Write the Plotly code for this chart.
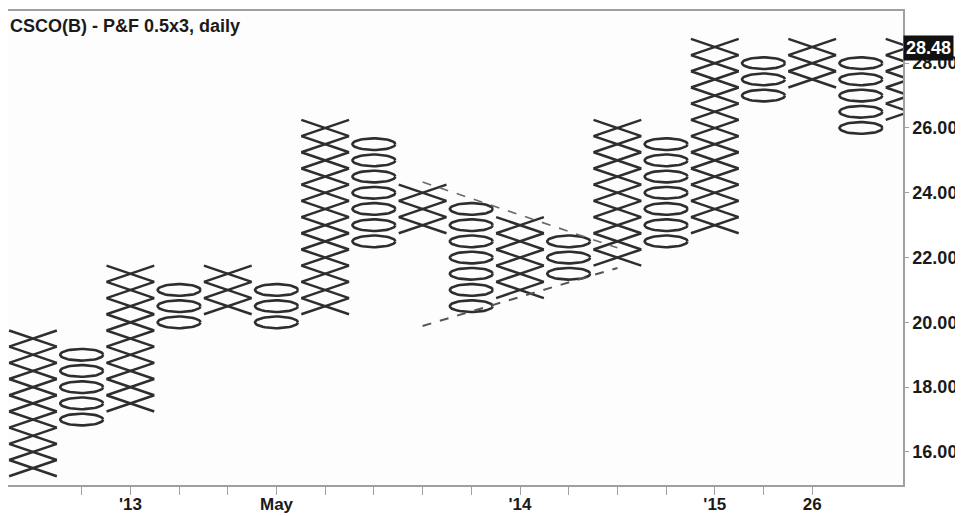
import numpy as np
import plotly.graph_objects as go

# ---- data ----
col_types = ['X', 'O', 'X', 'O', 'X', 'O', 'X', 'O', 'X', 'O',
             'X', 'O', 'X', 'O', 'X', 'O', 'X', 'O', 'X']
col_low = [15.5, 17.0, 17.5, 20.0, 20.5, 20.0, 20.5, 22.5, 23.0, 20.5,
           21.0, 21.5, 22.0, 22.5, 23.0, 27.0, 27.5, 26.0, 26.5]
col_high = [19.5, 19.0, 21.5, 21.0, 21.5, 21.0, 26.0, 25.5, 24.0, 23.5,
            23.0, 22.5, 26.0, 25.5, 28.5, 28.0, 28.5, 28.0, 28.5]
box_size = 0.5

x_tick_cols = list(range(2, 18))
x_tick_text = {3: "'13", 6: "May", 11: "'14", 15: "'15", 17: "26"}
y_ticks = [16, 18, 20, 22, 24, 26, 28]
last_price = 28.48

trend_upper_cols = [9, 13]
trend_upper_prices = [24.33, 22.30]
trend_lower_cols = [9, 13]
trend_lower_prices = [19.89, 21.68]

title_text = "CSCO(B) - P&F 0.5x3, daily"

# ---- build marks ----
XHW = 0.49          # half width of an X (column units)
ORX, ORY = 0.44, 0.18
MARK_COLOR = '#2e2e2e'

xs_x, xs_y = [], []
os_x, os_y = [], []
t = np.linspace(0, 2 * np.pi, 48)
for i, (kind, lo, hi) in enumerate(zip(col_types, col_low, col_high)):
    c = i + 1
    n = int(round((hi - lo) / box_size)) + 1
    for k in range(n):
        p = lo + k * box_size
        h = box_size / 2
        if kind == 'X':
            xs_x += [c - XHW, c + XHW, None, c - XHW, c + XHW, None]
            xs_y += [p - h, p + h, None, p + h, p - h, None]
        else:
            os_x += list(c + ORX * np.cos(t)) + [None]
            os_y += list(p + ORY * np.sin(t)) + [None]

fig = go.Figure()
fig.add_trace(go.Scatter(x=xs_x, y=xs_y, mode='lines',
                         line=dict(color=MARK_COLOR, width=2.5),
                         hoverinfo='skip', showlegend=False))
fig.add_trace(go.Scatter(x=os_x, y=os_y, mode='lines',
                         line=dict(color=MARK_COLOR, width=2.6),
                         hoverinfo='skip', showlegend=False))
fig.add_trace(go.Scatter(x=trend_upper_cols, y=trend_upper_prices, mode='lines',
                         line=dict(color='#6a6a6a', width=1.6, dash='dash'),
                         hoverinfo='skip', showlegend=False))
fig.add_trace(go.Scatter(x=trend_lower_cols, y=trend_lower_prices, mode='lines',
                         line=dict(color='#555555', width=2, dash='dash'),
                         hoverinfo='skip', showlegend=False))

FONT = "Liberation Sans, Arial, sans-serif"

# the page body has an 8px margin, so the figure is sized/offset to compensate
fig.update_layout(
    width=955, height=508,
    margin=dict(l=0, r=60, t=3, b=31),
    paper_bgcolor='white', plot_bgcolor='#fdfdfd',
    xaxis=dict(range=[0.487, 18.864], showgrid=False, zeroline=False,
               automargin=False,
               showline=True, mirror=True, linecolor='#a0a0a0', linewidth=1.5,
               tickmode='array', tickvals=x_tick_cols,
               ticktext=[x_tick_text.get(c, '') for c in x_tick_cols],
               ticks='outside', ticklen=8, tickcolor='#a0a0a0', tickwidth=1,
               ticklabelstandoff=-5,
               tickfont=dict(family=FONT, size=17, color='#1a1a1a', weight='bold')),
    yaxis=dict(range=[14.98, 29.61], side='right', showgrid=False, zeroline=False,
               automargin=False,
               showline=True, mirror=True, linecolor='#a0a0a0', linewidth=1.5,
               tickmode='array', tickvals=y_ticks, tickformat='.2f',
               ticks='outside', ticklen=4, tickcolor='#a0a0a0',
               tickfont=dict(family=FONT, size=18, color='#1a1a1a', weight='bold')),
    annotations=[
        dict(text=title_text, xref='paper', yref='paper', x=0, y=1,
             xanchor='left', yanchor='top', xshift=0, yshift=-3, showarrow=False,
             font=dict(family=FONT, size=18, color='#1a1a1a', weight='bold')),
        dict(text=f"{last_price:.2f}", xref='paper', yref='y', x=1, y=last_price,
             xanchor='left', yanchor='middle', showarrow=False,
             bgcolor='#111111', borderpad=2,
             font=dict(family=FONT, size=18, color='white', weight='bold')),
    ],
)

fig.write_html("out.html")
